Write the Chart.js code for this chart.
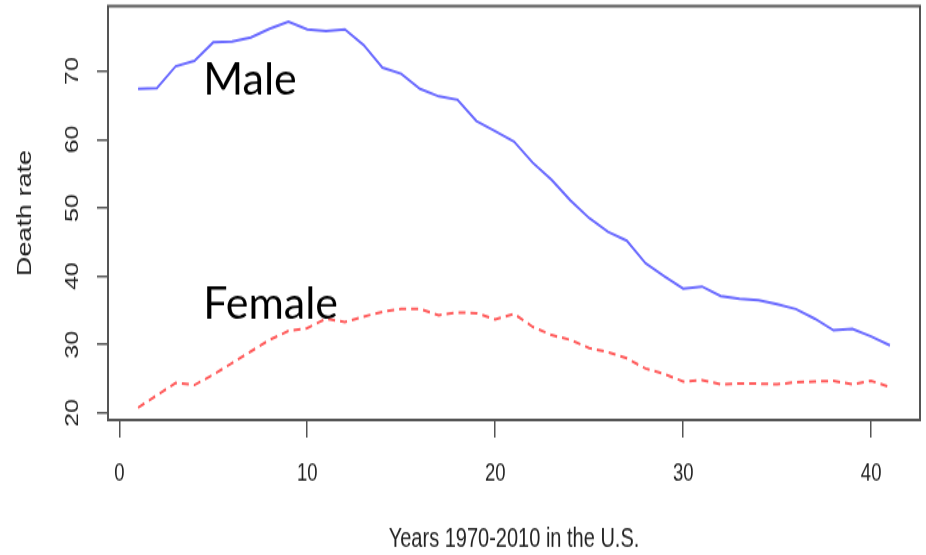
<!DOCTYPE html>
<html><head><meta charset="utf-8">
<script src="https://cdn.jsdelivr.net/npm/chart.js@4"></script>
<style>
html,body{margin:0;padding:0;background:#fff;overflow:hidden;width:926px;height:555px}
#wrap{width:926px;height:411px;transform:scaleY(1.3503649);transform-origin:0 0}
canvas{display:block}
</style></head><body>
<div id="wrap"><canvas id="c" width="926" height="411"></canvas></div>
<script>
// ---- data ----
const years = [1,2,3,4,5,6,7,8,9,10,11,12,13,14,15,16,17,18,19,20,21,22,23,24,25,26,27,28,29,30,31,32,33,34,35,36,37,38,39,40,41];
const maleRate = [67.4,67.5,70.7,71.5,74.2,74.3,74.9,76.2,77.2,76.1,75.85,76.1,73.8,70.5,69.6,67.4,66.3,65.8,62.7,61.2,59.7,56.6,54.1,51.1,48.5,46.5,45.2,41.9,40.0,38.2,38.5,37.1,36.7,36.5,35.9,35.2,33.8,32.1,32.3,31.2,29.9];
const femaleRate = [20.8,22.6,24.4,24.1,25.6,27.3,29.0,30.7,32.0,32.4,33.8,33.3,34.1,34.8,35.2,35.2,34.3,34.7,34.6,33.7,34.5,32.6,31.4,30.7,29.5,28.9,28.0,26.5,25.7,24.6,24.8,24.2,24.3,24.3,24.2,24.5,24.6,24.7,24.2,24.7,23.8];
const xTicks = [0,10,20,30,40];
const yTicks = [20,30,40,50,60,70];
const seriesNames = ['Male','Female'];
const xTitle = 'Years 1970-2010 in the U.S.';
const yTitle = 'Death rate';

// ---- rendering ----
const S = 555/411; // vertical stretch of the whole picture
const tickFont = {family:'"Liberation Sans", Arial, sans-serif', size:18.5};
const titleFont = {family:'"Liberation Sans", Arial, sans-serif', size:20};

const boxPlugin = {
  id:'box',
  afterDraw(chart){
    const {ctx, chartArea:a} = chart;
    ctx.save();
    ctx.strokeStyle = '#555';
    ctx.lineWidth = 2;
    ctx.strokeRect(a.left, a.top, a.right-a.left, a.bottom-a.top);
    ctx.restore();
  }
};

const labelPlugin = {
  id:'seriesLabels',
  afterDraw(chart, args, opts){
    const {ctx, scales:{x, y}} = chart;
    ctx.save();
    ctx.scale(1, 1/S);
    ctx.fillStyle = '#000';
    ctx.font = '43px Lato, "Open Sans", sans-serif';
    ctx.textBaseline = 'alphabetic';
    ctx.textAlign = 'left';
    opts.anchors.forEach((p, i) => {
      ctx.fillText(seriesNames[i], x.getPixelForValue(p.x), y.getPixelForValue(p.y)*S);
    });
    ctx.restore();
  }
};

function noPad(s){ s.paddingTop = 0; s.paddingBottom = 0; s.paddingLeft = 0; s.paddingRight = 0; }

new Chart(document.getElementById('c'), {
  type:'line',
  data:{
    datasets:[
      {label:seriesNames[0], data:years.map((v,i)=>({x:v,y:maleRate[i]})),
       borderColor:'#6b6bff', borderWidth:2, pointRadius:0, tension:0, fill:false},
      {label:seriesNames[1], data:years.map((v,i)=>({x:v,y:femaleRate[i]})),
       borderColor:'#ff5c5c', borderWidth:2, borderDash:[7,5], pointRadius:0, tension:0, fill:false}
    ]
  },
  options:{
    responsive:false,
    animation:false,
    devicePixelRatio:1,
    layout:{padding:{left:0, top:4.5, right:6, bottom:0}},
    plugins:{legend:{display:false}, tooltip:{enabled:false},
      seriesLabels:{anchors:[{x:4.47, y:66.5},{x:4.47, y:33.7}]}},
    scales:{
      x:{type:'linear', min:-0.6, max:42.6,
        afterBuildTicks(s){ s.ticks = xTicks.map(v=>({value:v})); },
        afterFit(s){ s.height = 100; noPad(s); },
        grid:{drawOnChartArea:false, drawTicks:true, tickLength:13, color:'#555', lineWidth:1.5},
        border:{display:false},
        ticks:{font:tickFont, color:'#222', padding:16, maxRotation:0, autoSkip:false},
        title:{display:true, text:xTitle, font:titleFont, color:'#222', padding:{top:0,bottom:0}}
      },
      y:{type:'linear', min:18.98, max:79.5,
        afterBuildTicks(s){ s.ticks = yTicks.map(v=>({value:v})); },
        afterFit(s){ s.width = 108; noPad(s); },
        grid:{drawOnChartArea:false, drawTicks:true, tickLength:11, color:'#555', lineWidth:1.5},
        border:{display:false},
        ticks:{font:tickFont, color:'#222', padding:14, minRotation:90, maxRotation:90, crossAlign:'center', autoSkip:false},
        title:{display:true, text:yTitle, font:titleFont, color:'#222', padding:{top:13,bottom:0}}
      }
    }
  },
  plugins:[boxPlugin, labelPlugin]
});
</script>
</body></html>
